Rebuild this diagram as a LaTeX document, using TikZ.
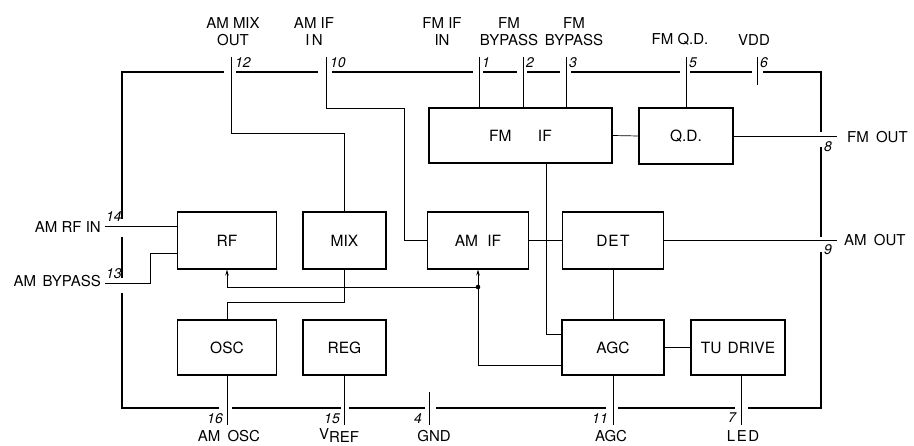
\documentclass[tikz,border=0pt]{standalone}
\usepackage{fontspec}
\setmainfont{TeX Gyre Heros}
\usetikzlibrary{arrows.meta}
\begin{document}
\begin{tikzpicture}[x=1pt,y=-1pt,
  blk/.style={draw,line width=1.1pt,inner sep=0pt,font=\fontsize{15.5}{17}\selectfont},
  wire/.style={line width=0.7pt},
  frame/.style={line width=2.5pt,line cap=butt,line join=miter},
  pinno/.style={font=\itshape\fontsize{14}{14}\selectfont,inner sep=0pt},
  lbl/.style={font=\fontsize{15}{17}\selectfont,inner sep=0pt,align=center},
  arr/.style={-{Stealth[length=6pt,width=3.5pt]}}]
\useasboundingbox (0,0) rectangle (914,446);

% ---------- frame ----------
\draw[frame] (122,219) -- (122,72) -- (224,72);
\draw[frame] (122,237) -- (122,278);
\draw[frame] (122,293) -- (122,408) -- (219,408);
\draw[frame] (236,72) -- (318,72);
\draw[frame] (332,72) -- (473,72);
\draw[frame] (483,72) -- (517,72);
\draw[frame] (527,72) -- (560,72);
\draw[frame] (571,72) -- (680,72);
\draw[frame] (690,72) -- (752,72);
\draw[frame] (763,72) -- (821,72) -- (821,132);
\draw[frame] (821,147) -- (821,237);
\draw[frame] (821,252) -- (821,408) -- (748,408);
\draw[frame] (735,408) -- (618,408);
\draw[frame] (606,408) -- (436,408);
\draw[frame] (425,408) -- (349,408);
\draw[frame] (341,408) -- (232,408);

% ---------- blocks ----------
\node[blk,minimum width=183,minimum height=55] (fmif) at (520.5,135.5) {FM\hspace{1.7em}IF};
\node[blk,minimum width=94,minimum height=56] (qd) at (686,136) {Q.D.};
\node[blk,minimum width=99,minimum height=57] (rf) at (227,240.5) {RF};
\node[blk,minimum width=83,minimum height=57] (mix) at (344.5,240.5) {MIX};
\node[blk,minimum width=101,minimum height=57] (amif) at (478,240.5) {AM\hspace{0.6em}IF};
\node[blk,minimum width=101,minimum height=57] (det) at (613,240.5) {D\hspace{0.05em}E\hspace{0.1em}T};
\node[blk,minimum width=99,minimum height=55] (osc) at (227,347.5) {OSC};
\node[blk,minimum width=83,minimum height=55] (reg) at (344.5,347.5) {REG};
\node[blk,minimum width=102,minimum height=55] (agc) at (613,347.5) {AGC};
\node[blk,minimum width=94,minimum height=55] (tu) at (738,347.5) {TU\hspace{0.4em}DRIVE};

% ---------- pin end points ----------
\coordinate (p12) at (231,57);
\coordinate (p10) at (326,57);
\coordinate (p1) at (479,57);
\coordinate (p2) at (523,57);
\coordinate (p3) at (566,57);
\coordinate (p5) at (686,57);
\coordinate (p6a) at (757,57);
\coordinate (p6b) at (757,85);
\coordinate (p14) at (105,226);
\coordinate (p13) at (105,283);
\coordinate (p8) at (837,136);
\coordinate (p9) at (837,240.5);
\coordinate (p16) at (227,425);
\coordinate (p15) at (344.5,425);
\coordinate (p4a) at (429,392);
\coordinate (p4b) at (429,425);
\coordinate (p11) at (613,425);
\coordinate (p7) at (741,425);

% ---------- corners / junctions ----------
\coordinate (c12) at (344.5,133);
\coordinate (c10) at (404,108);
\coordinate (c13) at (150,253);
\coordinate (cmo) at (344.5,302);
\coordinate (dot) at (478,287);

% ---------- connectors ----------
\draw[wire] (p12) |- (c12) -- (mix.north);
\draw[wire] (p10) |- (c10) |- (amif.west);
\draw[wire] (p1) -- (p1 |- fmif.north);
\draw[wire] (p2) -- (p2 |- fmif.north);
\draw[wire] (p3) -- (p3 |- fmif.north);
\draw[wire] (p5) -- (qd.north);
\draw[wire] (p6a) -- (p6b);
\draw[wire] (fmif.east) -- (qd.west);
\draw[wire] (qd.east) -- (p8);
\draw[wire] (p14) -- (p14 -| rf.west);
\draw[wire] (p13) -| (c13) -- (c13 -| rf.west);
\draw[wire] (mix.south) -- (cmo) -| (osc.north);
\draw[wire,arr] (dot) -| (rf.south);
\draw[wire,arr] (dot) -- (amif.south);
\draw[wire] (dot) |- ([yshift=10pt]agc.south west);
\draw[wire] ([xshift=25.5pt]fmif.south) |- ([yshift=-15pt]agc.north west);
\draw[wire] (amif.east) -- (det.west);
\draw[wire] (det.east) -- (p9);
\draw[wire] (det.south) -- (agc.north);
\draw[wire] (agc.east) -- (tu.west);
\draw[wire] (agc.south) -- (p11);
\draw[wire] (p7 |- tu.south) -- (p7);
\draw[wire] (osc.south) -- (p16);
\draw[wire] (reg.south) -- (p15);
\draw[wire] (p4a) -- (p4b);
\fill (dot) circle (2.3);

% ---------- pin numbers ----------
\node[pinno,anchor=south west] (n12) at (235,68) {12};
\node[pinno,anchor=south west] (n10) at (330,68) {10};
\node[pinno,anchor=south west] (n1) at (482,68) {1};
\node[pinno,anchor=south west] (n2) at (526,68) {2};
\node[pinno,anchor=south west] (n3) at (569,68) {3};
\node[pinno,anchor=south west] (n5) at (689,68) {5};
\node[pinno,anchor=south west] (n6) at (760,68) {6};
\node[pinno,anchor=south west] (n14) at (106,222) {14};
\node[pinno,anchor=south west] (n13) at (106,279) {13};
\node[pinno,anchor=north west] (n8) at (824,141) {8};
\node[pinno,anchor=north west] (n9) at (824,244) {9};
\node[pinno,anchor=north east] (n16) at (223,413) {16};
\node[pinno,anchor=north east] (n15) at (340,413) {15};
\node[pinno,anchor=north east] (n4) at (422,413) {4};
\node[pinno,anchor=north east] (n11) at (608,413) {11};
\node[pinno,anchor=north east] (n7) at (736,413) {7};

% ---------- pin names ----------
\node[lbl,anchor=south] (t12) at (233,46) {AM MIX\\OUT};
\node[lbl,anchor=south] (t10) at (314,46) {AM IF\\I\hspace{0.15em}N};
\node[lbl,anchor=south] (t1) at (442,46) {FM IF\\IN};
\node[lbl,anchor=south] (t2) at (509,46) {FM\\BYPASS};
\node[lbl,anchor=south] (t3) at (574,46) {FM\\BYPASS};
\node[lbl,anchor=south] (t5) at (680,46) {FM Q.D.};
\node[lbl,anchor=south] (t6) at (754,46) {VDD};
\node[lbl,anchor=east] (t14) at (101,227) {AM RF IN};
\node[lbl,anchor=east] (t13) at (101,281) {AM\hspace{0.15em} BYPASS};
\node[lbl,anchor=west] (t8) at (847,137) {FM\hspace{0.2em} OUT};
\node[lbl,anchor=west] (t9) at (844,240) {AM\hspace{0.2em} OUT};
\node[lbl,anchor=base] (t16) at (229,442) {AM\hspace{0.2em} OSC};
\node[lbl,anchor=base] (t15) at (339,440) {V\raisebox{-2.5pt}{REF}};
\node[lbl,anchor=base] (t4) at (434,442) {GND};
\node[lbl,anchor=base] (t11) at (611,442) {AGC};
\node[lbl,anchor=base] (t7) at (743,442) {L\hspace{0.1em}E\hspace{0.1em}D};
\end{tikzpicture}
\end{document}
